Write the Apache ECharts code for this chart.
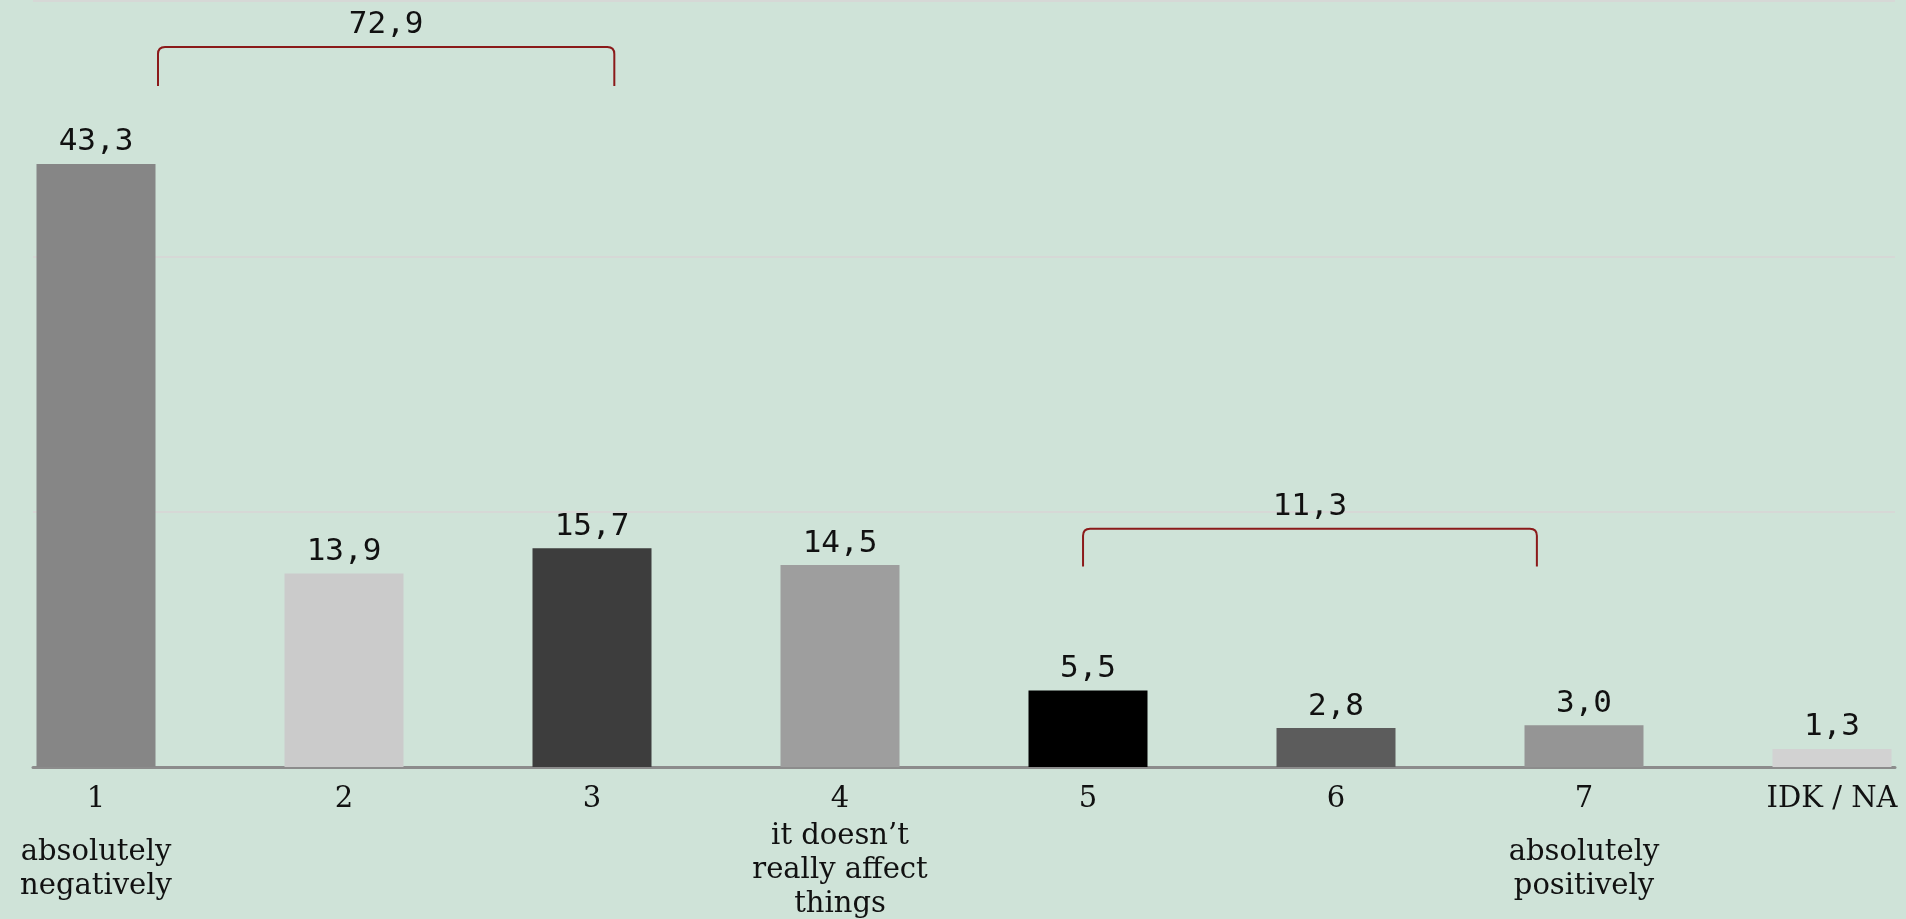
<!DOCTYPE html>
<html>
<head>
<meta charset="utf-8">
<script src="https://cdn.jsdelivr.net/npm/echarts@6/dist/echarts.min.js"></script>
<style>
html,body{margin:0;padding:0;background:#cfe3d8;}
#chart{width:1906px;height:919px;}
</style>
</head>
<body>
<div id="chart"></div>
<script>
const categories = ['1', '2', '3', '4', '5', '6', '7', 'IDK / NA'];
const descriptions = ['absolutely\nnegatively', '', '', 'it doesn\u2019t\nreally affect\nthings', '', '', 'absolutely\npositively', ''];
const values = [43.3, 13.9, 15.7, 14.5, 5.5, 2.8, 3.0, 1.3];
const barColors = ['#868686', '#cbcbcb', '#3d3d3d', '#9e9e9e', '#000000', '#5c5c5c', '#959595', '#d2d2d2'];
const yTicks = [0, 55 / 3, 110 / 3, 55];

// brackets grouping categories (x in category-index units, y in value units)
const bracketStart = [0.25, 3.98];
const bracketEnd = [2.09, 5.81];
const bracketTop = [51.7, 17.1];
const bracketBottom = [48.9, 14.4];
const bracketLabels = ['72,9', '11,3'];

const fmt = v => v.toFixed(1).replace('.', ',');
const monoFont = '"DejaVu Sans Mono", monospace';
const serifFont = '"DejaVu Serif", serif';

const chart = echarts.init(document.getElementById('chart'), null, {renderer: 'canvas'});

const option = {
  backgroundColor: '#cfe3d8',
  animation: false,
  grid: [
    {left: 96, right: 74, top: 1, bottom: 152},
    {left: 33, right: 11, top: 1, bottom: 152}
  ],
  xAxis: [
    {
      type: 'category', gridIndex: 0, boundaryGap: false, data: categories,
      axisLine: {show: false}, axisTick: {show: false}, splitLine: {show: false},
      axisLabel: {
        interval: 0, margin: 12, color: '#111',
        formatter: function (v, i) {
          const d = descriptions[i];
          if (!d) return '{n|' + v + '}';
          const lines = d.split('\n').map(l => '{d|' + l + '}').join('\n');
          const spacer = (i === 0 || i === 6) ? '{s| }\n' : '';
          return '{n|' + v + '}\n' + spacer + lines;
        },
        rich: {
          n: {fontFamily: serifFont, fontSize: 29, lineHeight: 40, color: '#111'},
          d: {fontFamily: serifFont, fontSize: 29, lineHeight: 34, color: '#111'},
          s: {fontSize: 10, lineHeight: 16}
        }
      }
    },
    {type: 'value', gridIndex: 0, min: 0, max: 7, show: false},
    {
      type: 'category', gridIndex: 1, data: [''],
      axisLine: {show: true, lineStyle: {color: '#8c8c8c', width: 3}},
      axisTick: {show: false}, axisLabel: {show: false}, splitLine: {show: false}
    }
  ],
  yAxis: [
    {type: 'value', gridIndex: 0, min: yTicks[0], max: yTicks[3], interval: yTicks[1], show: false, splitLine: {show: false}},
    {
      type: 'value', gridIndex: 1, min: yTicks[0], max: yTicks[3], interval: yTicks[1],
      axisLine: {show: false}, axisTick: {show: false}, axisLabel: {show: false},
      splitLine: {show: true, lineStyle: {color: '#d6d8d6', width: 2}}
    }
  ],
  series: [
    {
      type: 'bar', xAxisIndex: 0, yAxisIndex: 0, clip: false,
      barWidth: 119,
      data: values.map((v, i) => ({value: v, itemStyle: {color: barColors[i]}})),
      label: {
        show: true, position: 'top', distance: 6,
        fontFamily: monoFont, fontSize: 31, color: '#111',
        formatter: p => fmt(p.value)
      },
      z: 3
    },
    {
      type: 'custom', xAxisIndex: 1, yAxisIndex: 0, clip: false,
      data: bracketStart.map((s, i) => [s, bracketEnd[i], bracketTop[i], bracketBottom[i]]),
      renderItem: function (params, api) {
        const x1 = api.value(0), x2 = api.value(1), yt = api.value(2), yb = api.value(3);
        const tl = api.coord([x1, yt]), tr = api.coord([x2, yt]);
        const bl = api.coord([x1, yb]), br = api.coord([x2, yb]);
        const r = 7;
        const path = 'M' + bl[0] + ' ' + bl[1] +
          ' L' + tl[0] + ' ' + (tl[1] + r) +
          ' Q' + tl[0] + ' ' + tl[1] + ' ' + (tl[0] + r) + ' ' + tl[1] +
          ' L' + (tr[0] - r) + ' ' + tr[1] +
          ' Q' + tr[0] + ' ' + tr[1] + ' ' + tr[0] + ' ' + (tr[1] + r) +
          ' L' + br[0] + ' ' + br[1];
        return {
          type: 'group',
          children: [
            {type: 'path', shape: {pathData: path}, style: {stroke: '#8b1a1a', fill: null, lineWidth: 2}},
            {type: 'text', style: {
              x: (tl[0] + tr[0]) / 2, y: tl[1] - 22,
              text: bracketLabels[params.dataIndex],
              align: 'center', verticalAlign: 'middle',
              font: '31px ' + monoFont, fill: '#111'
            }}
          ]
        };
      },
      z: 4
    }
  ]
};
chart.setOption(option);
</script>
</body>
</html>
